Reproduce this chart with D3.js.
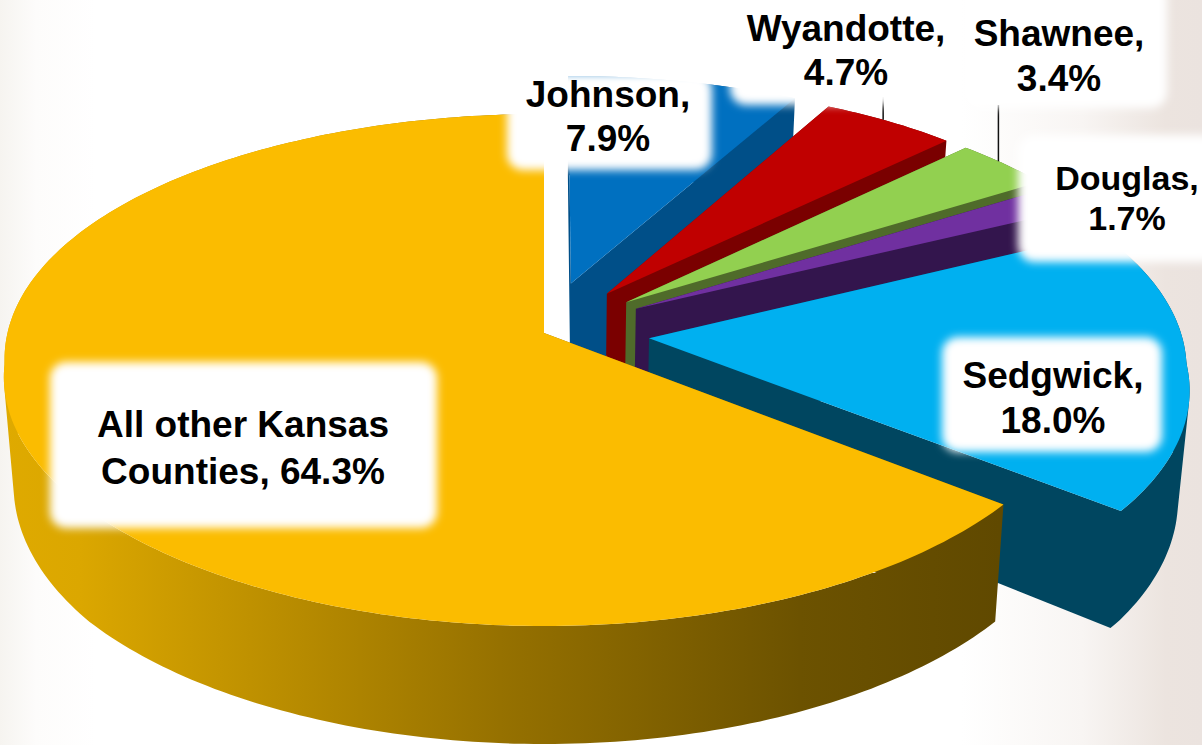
<!DOCTYPE html>
<html>
<head>
<meta charset="utf-8">
<script src="https://d3js.org/d3.v7.min.js"></script>
<style>
  html, body { margin: 0; padding: 0; background: #fff; overflow: hidden; }
  text { font-family: "Liberation Sans", Arial, sans-serif; font-weight: bold; fill: #000; text-anchor: middle; }
</style>
</head>
<body>
<div id="chart"></div>
<script>
// Share of Kansas counties, clockwise from 12 o'clock
const counties = ['Johnson', 'Wyandotte', 'Shawnee', 'Douglas', 'Sedgwick', 'All other Kansas Counties'];
const shares = [7.9, 4.7, 3.4, 1.7, 18.0, 64.3];

const topColors = ['#0070c0', '#c00000', '#92d050', '#7030a0', '#00b0f0', '#fbbc00'];
const wallColors = ['#004f88', '#7a0000', '#4f6b2a', '#33154d', '#004660', 'url(#wallGold)'];
const explode = [0.21, 0.2, 0.2, 0.2, 0.198, 0];

// Label layout, same order as counties
const labelLayout = [
  { box: [507, 73, 205, 97], cx: 608, base: 107, gap: 44, size: 37 },
  { box: [730, -20, 232, 125], cx: 846, base: 41, gap: 44, size: 37 },
  { box: [965, -20, 202, 128], cx: 1059, base: 46, gap: 45, size: 37 },
  { box: [1018, 135, 200, 127], cx: 1127, base: 190, gap: 40, size: 34 },
  { box: [942, 337, 220, 115], cx: 1053, base: 388, gap: 45, size: 37 },
  { box: [50, 362, 387, 166], cx: 243, base: 437, gap: 47, size: 37 }
];
const labelLines = (name, value) => {
  const v = value.toFixed(1) + '%';
  if (name.startsWith('All other')) return ['All other Kansas', `Counties, ${v}`];
  return [`${name},`, v];
};

const width = 1202;
const height = 745;

// Perspective of the disc: back edge is squeezed, front edge is stretched
const cx = 544, cy = 333;
const radiusY = 250.7, persp = 0.1445;
const bottomShrink = 0.982;
const leftStretch = 1.008;

// Horizontal radius and wall height, by depth (-1 back, 1 front)
const radiusX = d3.scaleLinear().domain([-1.07, -0.86, 0.12, 0.62, 1]).range([476, 484, 539, 587, 620]);
const wallHeight = d3.scaleLinear().domain([-1, 0, 0.62, 1]).range([100, 104, 117, 118]);
const yScale = d3.scaleLinear().domain([-1, 1]).range([cy - radiusY, cy + radiusY]);

function project(u, v) {
  const su = u < 0 ? u * leftStretch : u;
  return [cx + su * radiusX(v), yScale(v / (1 - persp * v))];
}
function projectBottom(u, v) {
  const [x, y] = project(u, v);
  return [cx + (x - cx) * bottomShrink, y + wallHeight(v)];
}

// Same winding for every quad, so overlaps in one path never cancel out
function oriented(quad) {
  return d3.polygonArea(quad) < 0 ? quad.slice().reverse() : quad;
}

const svg = d3.select('#chart').append('svg')
  .attr('width', width)
  .attr('height', height)
  .style('display', 'block');

const defs = svg.append('defs');

const bg = defs.append('linearGradient').attr('id', 'pageBg');
[[0, '#f6f4f0'], [0.03, '#fdfcfb'], [0.08, '#ffffff'], [0.8, '#ffffff'], [0.9, '#f8f5f3'], [0.97, '#ece4df'], [1, '#ebe3df']]
  .forEach(s => bg.append('stop').attr('offset', s[0]).attr('stop-color', s[1]));

const gold = defs.append('linearGradient')
  .attr('id', 'wallGold')
  .attr('gradientUnits', 'userSpaceOnUse')
  .attr('x1', 0).attr('x2', 1000).attr('y1', 0).attr('y2', 0);
[[0, '#dfaa00'], [0.08, '#dba700'], [0.5, '#967100'], [0.8, '#6c5200'], [1, '#604900']]
  .forEach(s => gold.append('stop').attr('offset', s[0]).attr('stop-color', s[1]));

defs.append('filter')
  .attr('id', 'softBox')
  .attr('x', '-10%').attr('y', '-10%').attr('width', '120%').attr('height', '120%')
  .append('feGaussianBlur').attr('stdDeviation', 4);

svg.append('rect').attr('width', width).attr('height', height).attr('fill', 'url(#pageBg)');

const pie = d3.pie().sort(null).value(d => d)(shares);
const line = d3.line();

const slices = pie.map((d, i) => {
  const mid = (d.startAngle + d.endAngle) / 2;
  const ox = Math.sin(mid) * explode[i];
  const oy = -Math.cos(mid) * explode[i];
  const steps = Math.max(4, Math.ceil((d.endAngle - d.startAngle) * 60));
  const rim = d3.range(steps + 1).map(k => {
    const a = d.startAngle + (d.endAngle - d.startAngle) * k / steps;
    return [Math.sin(a) + ox, -Math.cos(a) + oy];
  });
  return { i, mid, ox, oy, apex: [ox, oy], rim };
});

// Back to front, the big front slice goes last
slices.forEach(s => {
  const g = svg.append('g');
  const rimTop = s.rim.map(p => project(p[0], p[1]));
  const rimBottom = s.rim.map(p => projectBottom(p[0], p[1]));
  const apexTop = project(s.apex[0], s.apex[1]);
  const apexBottom = projectBottom(s.apex[0], s.apex[1]);
  const n = rimTop.length - 1;

  const walls = [
    [apexTop, rimTop[0], rimBottom[0], apexBottom],
    [apexTop, rimTop[n], rimBottom[n], apexBottom]
  ];
  // Outer wall is one quad per rim step, so the silhouette at the sides gets filled too
  d3.range(n).forEach(k => {
    walls.push([rimTop[k], rimTop[k + 1], rimBottom[k + 1], rimBottom[k]]);
  });
  g.append('path')
    .attr('d', walls.map(w => line(oriented(w)) + 'Z').join(''))
    .attr('fill', wallColors[s.i]);

  g.append('path')
    .attr('d', line([apexTop].concat(rimTop)) + 'Z')
    .attr('fill', topColors[s.i]);
});

// Leader lines for the two labels that sit off their slice
[[1, 97], [2, 105]].forEach(([i, yEnd]) => {
  const s = slices[i];
  const a = s.mid - 0.017;
  const [x, y] = project(Math.sin(a) + s.ox, -Math.cos(a) + s.oy);
  svg.append('line')
    .attr('x1', x).attr('x2', x)
    .attr('y1', y).attr('y2', yEnd)
    .attr('stroke', '#111')
    .attr('stroke-width', 1.5);
});

// White blurred label plates, then the text
labelLayout.forEach(l => {
  svg.append('rect')
    .attr('x', l.box[0]).attr('y', l.box[1])
    .attr('width', l.box[2]).attr('height', l.box[3])
    .attr('rx', 16)
    .attr('fill', '#fff')
    .attr('filter', 'url(#softBox)');
});

counties.forEach((name, i) => {
  const l = labelLayout[i];
  labelLines(name, shares[i]).forEach((txt, k) => {
    svg.append('text')
      .attr('x', l.cx)
      .attr('y', l.base + k * l.gap)
      .attr('font-size', l.size)
      .text(txt);
  });
});
</script>
</body>
</html>
